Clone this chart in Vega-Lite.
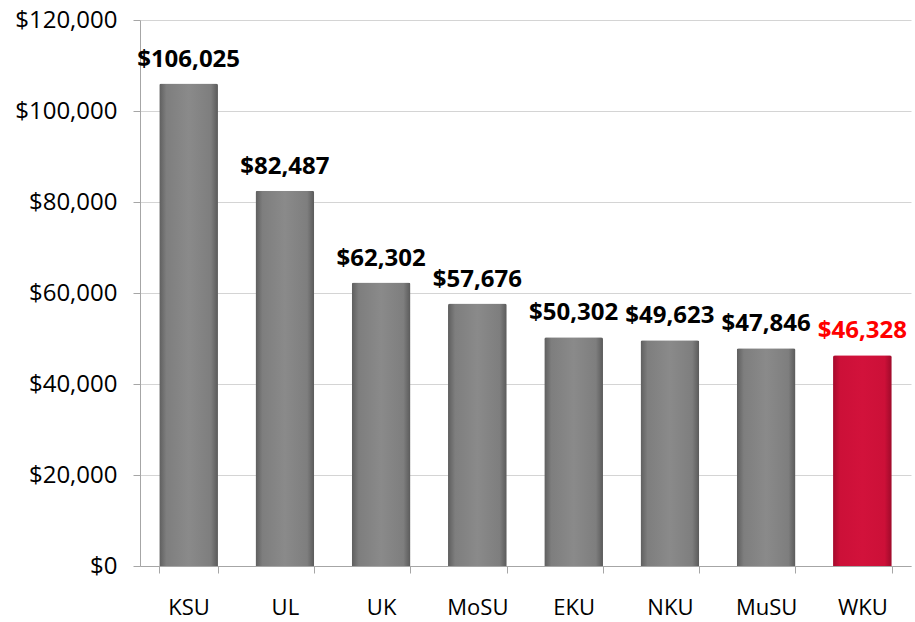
{
  "$schema": "https://vega.github.io/schema/vega-lite/v6.json",
  "width": 771,
  "height": 546,
  "autosize": {"type": "none"},
  "padding": {"left": 140, "top": 20, "right": 4, "bottom": 56},
  "background": "white",
  "config": {"view": {"stroke": null}, "font": "Open Sans"},
  "data": {"values": [
    {"school": "KSU", "value": 106025, "hl": "no"},
    {"school": "UL", "value": 82487, "hl": "no"},
    {"school": "UK", "value": 62302, "hl": "no"},
    {"school": "MoSU", "value": 57676, "hl": "no"},
    {"school": "EKU", "value": 50302, "hl": "no"},
    {"school": "NKU", "value": 49623, "hl": "no"},
    {"school": "MuSU", "value": 47846, "hl": "no"},
    {"school": "WKU", "value": 46328, "hl": "yes"}
  ]},
  "encoding": {
    "x": {"field": "school", "type": "nominal", "sort": null,
      "scale": {"paddingInner": 0.39, "paddingOuter": 0.2},
      "axis": {"title": null, "labelAngle": 0, "labelFontSize": 22, "labelFontWeight": 500, "labelColor": "black", "labelPadding": 24,
        "domainColor": "#a6a6a6", "tickColor": "#a6a6a6", "tickBand": "extent", "tickSize": 7, "grid": false}},
    "y": {"field": "value", "type": "quantitative",
      "scale": {"domain": [0, 120000]},
      "axis": {"title": null, "values": [0, 20000, 40000, 60000, 80000, 100000, 120000], "format": "$,.0f",
        "labelFontSize": 24, "labelFontWeight": 500, "labelColor": "black", "labelPadding": 16,
        "domainColor": "#a6a6a6", "tickColor": "#a6a6a6", "tickSize": 7,
        "gridColor": "#d4d4d4", "grid": true}}
  },
  "layer": [
    {"transform": [{"filter": "datum.hl == 'no'"}],
     "mark": {"type": "bar", "cornerRadiusTopLeft": 2, "cornerRadiusTopRight": 2,
       "fill": {"gradient": "linear", "x1": 0, "y1": 0, "x2": 1, "y2": 0,
         "stops": [{"offset": 0, "color": "#5e5e5e"}, {"offset": 0.12, "color": "#7e7e7e"}, {"offset": 0.5, "color": "#8a8a8a"}, {"offset": 0.88, "color": "#7e7e7e"}, {"offset": 1, "color": "#5a5a5a"}]}}},
    {"transform": [{"filter": "datum.hl == 'yes'"}],
     "mark": {"type": "bar", "cornerRadiusTopLeft": 2, "cornerRadiusTopRight": 2,
       "fill": {"gradient": "linear", "x1": 0, "y1": 0, "x2": 1, "y2": 0,
         "stops": [{"offset": 0, "color": "#a50a2c"}, {"offset": 0.12, "color": "#cc1038"}, {"offset": 0.5, "color": "#d2123b"}, {"offset": 0.88, "color": "#cc1038"}, {"offset": 1, "color": "#9e0a2a"}]}}},
    {"mark": {"type": "text", "baseline": "alphabetic", "dy": -17, "fontSize": 24, "fontWeight": "bold"},
     "encoding": {
       "text": {"field": "value", "type": "quantitative", "format": "$,.0f"},
       "color": {"field": "hl", "type": "nominal", "scale": {"domain": ["no", "yes"], "range": ["black", "#ff0000"]}, "legend": null}
     }}
  ]
}
